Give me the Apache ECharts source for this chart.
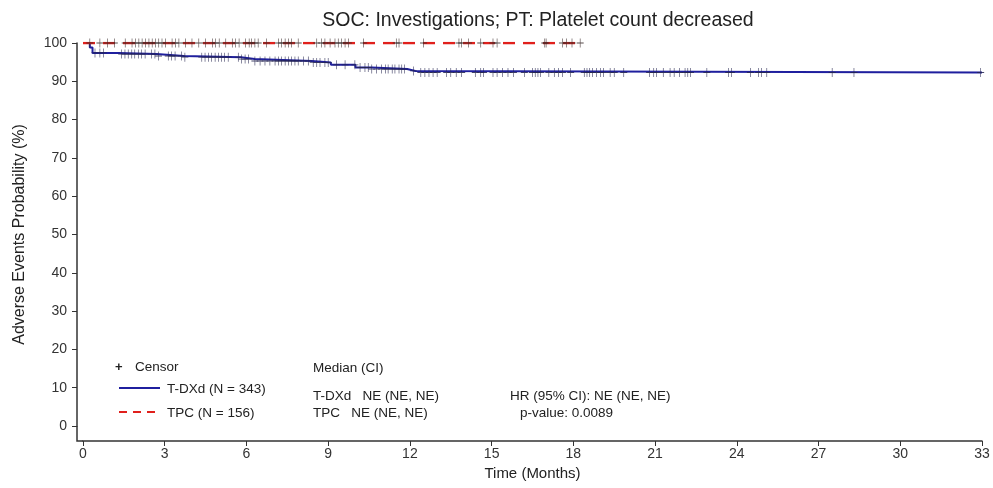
<!DOCTYPE html>
<html>
<head>
<meta charset="utf-8">
<script src="https://cdn.jsdelivr.net/npm/echarts@6/dist/echarts.min.js"></script>
<style>html,body{margin:0;padding:0;background:#fff}#c{width:993px;height:488px}</style>
</head>
<body>
<div id="c"></div>
<script>
// ---- Data ----
const titleText = 'SOC: Investigations; PT: Platelet count decreased';
const xTicks = [0, 3, 6, 9, 12, 15, 18, 21, 24, 27, 30, 33];
const yTicks = [0, 10, 20, 30, 40, 50, 60, 70, 80, 90, 100];

// T-DXd step curve: time (months) of each step and value from that time on (%)
const tdxdTimes  = [0, 0.25, 0.35, 1.3, 2.7, 3.7, 5.8, 6.3, 8.4, 9.1, 10.0, 10.6, 11.9, 12.2, 33];
const tdxdValues = [100, 98.8, 97.4, 97.1, 96.6, 96.3, 95.8, 95.3, 94.9, 94.3, 93.6, 93.2, 92.7, 92.3, 92.3];
const tdxdCensor = [0.44, 0.62, 0.75, 1.42, 1.54, 1.66, 1.79, 1.9, 2.03, 2.15, 2.28, 2.52, 2.64, 2.77,
  3.13, 3.25, 3.38, 3.62, 3.74, 4.36, 4.48, 4.6, 4.72, 4.85, 4.97, 5.09, 5.2, 5.33, 5.7, 5.82, 5.95,
  6.07, 6.31, 6.5, 6.68, 6.86, 7.05, 7.17, 7.29, 7.42, 7.54, 7.66, 7.78, 7.9, 8.09, 8.27, 8.45, 8.58,
  8.7, 8.88, 9.0, 9.31, 9.62, 9.98, 10.17, 10.35, 10.47, 10.6, 10.78, 10.96, 11.1, 11.2, 11.35, 11.45,
  11.6, 11.7, 11.8, 12.13, 12.4, 12.55, 12.7, 12.85, 13.0, 13.35, 13.5, 13.7, 13.9, 14.4, 14.6, 14.7,
  15.05, 15.2, 15.4, 15.6, 15.8, 16.2, 16.5, 16.6, 16.7, 16.8, 17.1, 17.3, 17.45, 17.6, 17.9, 18.4,
  18.5, 18.6, 18.7, 18.85, 19.0, 19.1, 19.35, 19.5, 19.85, 20.8, 20.95, 21.05, 21.3, 21.55, 21.7, 21.9,
  22.1, 22.2, 22.3, 22.9, 23.7, 23.8, 24.5, 24.8, 24.9, 25.1, 27.5, 28.3, 32.95];

// TPC step curve
const tpcTimes  = [0, 18.35];
const tpcValues = [100, 100];
const tpcCensor = [0.25, 0.62, 0.9, 1.15, 1.55, 1.8, 1.93, 2.05, 2.17, 2.3, 2.42, 2.54, 2.66, 2.78,
  2.9, 3.03, 3.27, 3.39, 3.52, 3.76, 4.0, 4.25, 4.5, 4.75, 4.87, 5.0, 5.24, 5.48, 5.6, 5.73, 5.97, 6.1,
  6.19, 6.31, 6.43, 6.74, 7.17, 7.29, 7.42, 7.54, 7.66, 7.9, 8.58, 8.76, 8.88, 9.07, 9.25, 9.37, 9.49,
  9.62, 9.74, 10.3, 11.5, 11.6, 12.5, 13.8, 13.9, 14.15, 14.6, 15.05, 15.2, 16.95, 17.0, 17.6, 17.75,
  17.95, 18.25];

// Legend / annotation texts
const legendCensor = 'Censor';
const legendNames = ['T-DXd (N = 343)', 'TPC (N = 156)'];
const medianHeader = 'Median (CI)';
const medianRows = ['T-DXd   NE (NE, NE)', 'TPC   NE (NE, NE)'];
const hrText = 'HR (95% CI): NE (NE, NE)';
const pText = 'p-value: 0.0089';

// ---- Helpers ----
function stepValue(times, values, t) {
  let v = values[0];
  for (let i = 0; i < times.length; i++) { if (times[i] <= t) v = values[i]; }
  return v;
}
const zip = (a, b) => a.map((x, i) => [x, b[i]]);

const BLUE = '#1f1f9e', RED = '#e0201c', AX = '#333';
const FONT = 'Liberation Sans, Arial, sans-serif';
const plusPath = 'path://M-0.09,-1H0.09V-0.09H1V0.09H0.09V1H-0.09V0.09H-1V-0.09H-0.09Z';

const chart = echarts.init(document.getElementById('c'), null, { renderer: 'canvas' });
const option = {
  animation: false,
  backgroundColor: '#fff',
  title: {
    text: titleText, left: 533, top: 6, textAlign: 'center',
    textStyle: { fontFamily: FONT, fontSize: 19.5, fontWeight: 'normal', color: '#222' }
  },
  grid: { left: 83, right: 11, top: 43, bottom: 62 },
  xAxis: {
    type: 'value', min: xTicks[0], max: xTicks[xTicks.length - 1], interval: 3, offset: 15,
    name: 'Time (Months)', nameLocation: 'middle', nameGap: 25,
    nameTextStyle: { fontFamily: FONT, fontSize: 15, color: '#222' },
    axisLine: { show: true, onZero: false, lineStyle: { color: AX, width: 1.5 } },
    axisTick: { show: true, length: 5, lineStyle: { color: AX } },
    axisLabel: { fontFamily: FONT, fontSize: 14, color: '#333', margin: 6,
      formatter: v => xTicks.includes(v) ? String(v) : '' },
    splitLine: { show: false }
  },
  yAxis: {
    type: 'value', min: yTicks[0], max: yTicks[yTicks.length - 1], interval: 10, offset: 6,
    name: 'Adverse Events Probability (%)', nameLocation: 'middle', nameGap: 49,
    nameTextStyle: { fontFamily: FONT, fontSize: 16, color: '#222' },
    axisLine: { show: true, onZero: false, lineStyle: { color: AX, width: 1.5 } },
    axisTick: { show: true, length: 5, lineStyle: { color: AX } },
    axisLabel: { fontFamily: FONT, fontSize: 14, color: '#333', margin: 10,
      formatter: v => yTicks.includes(v) ? String(v) : '' },
    splitLine: { show: false }
  },
  series: [
    { type: 'line', name: 'T-DXd', step: 'end', showSymbol: false, z: 2,
      data: zip(tdxdTimes, tdxdValues), lineStyle: { color: BLUE, width: 2 } },
    { type: 'line', name: 'TPC', step: 'end', showSymbol: false, z: 3,
      data: zip(tpcTimes, tpcValues), lineStyle: { color: RED, width: 2.5, type: [12, 8] } },
    { type: 'scatter', name: 'T-DXd censor', symbol: plusPath, symbolSize: [7, 9], z: 4,
      data: tdxdCensor.map(t => [t, stepValue(tdxdTimes, tdxdValues, t)]),
      itemStyle: { color: '#262650', opacity: 0.85 } },
    { type: 'scatter', name: 'TPC censor', symbol: plusPath, symbolSize: [7, 9], z: 4,
      data: tpcCensor.map(t => [t, stepValue(tpcTimes, tpcValues, t)]),
      itemStyle: { color: '#3a2a2a', opacity: 0.85 } }
  ]
};
chart.setOption(option);

// Join the offset axes at the corner and draw the legend block
const o = chart.convertToPixel({ gridIndex: 0 }, [0, 0]);
const ts = (x, y, text, extra) => ({ type: 'text', x, y,
  style: Object.assign({ text, fill: '#222', font: '13.5px ' + FONT, textVerticalAlign: 'middle' }, extra || {}) });
chart.setOption({
  graphic: [
    { type: 'polyline', shape: { points: [[o[0] - 6, o[1]], [o[0] - 6, o[1] + 15], [o[0], o[1] + 15]] },
      style: { stroke: AX, lineWidth: 1.5, fill: null } },
    ts(115, 367, '+', { font: 'bold 13px ' + FONT }),
    ts(135, 367, legendCensor),
    { type: 'line', shape: { x1: 119, y1: 388, x2: 160, y2: 388 }, style: { stroke: BLUE, lineWidth: 2 } },
    ts(167, 389, legendNames[0]),
    { type: 'line', shape: { x1: 119, y1: 412, x2: 160, y2: 412 }, style: { stroke: RED, lineWidth: 2, lineDash: [8, 6] } },
    ts(167, 413, legendNames[1]),
    ts(313, 368, medianHeader),
    ts(313, 396, medianRows[0]),
    ts(313, 413, medianRows[1]),
    ts(510, 396, hrText),
    ts(520, 413, pText)
  ]
});
</script>
</body>
</html>
